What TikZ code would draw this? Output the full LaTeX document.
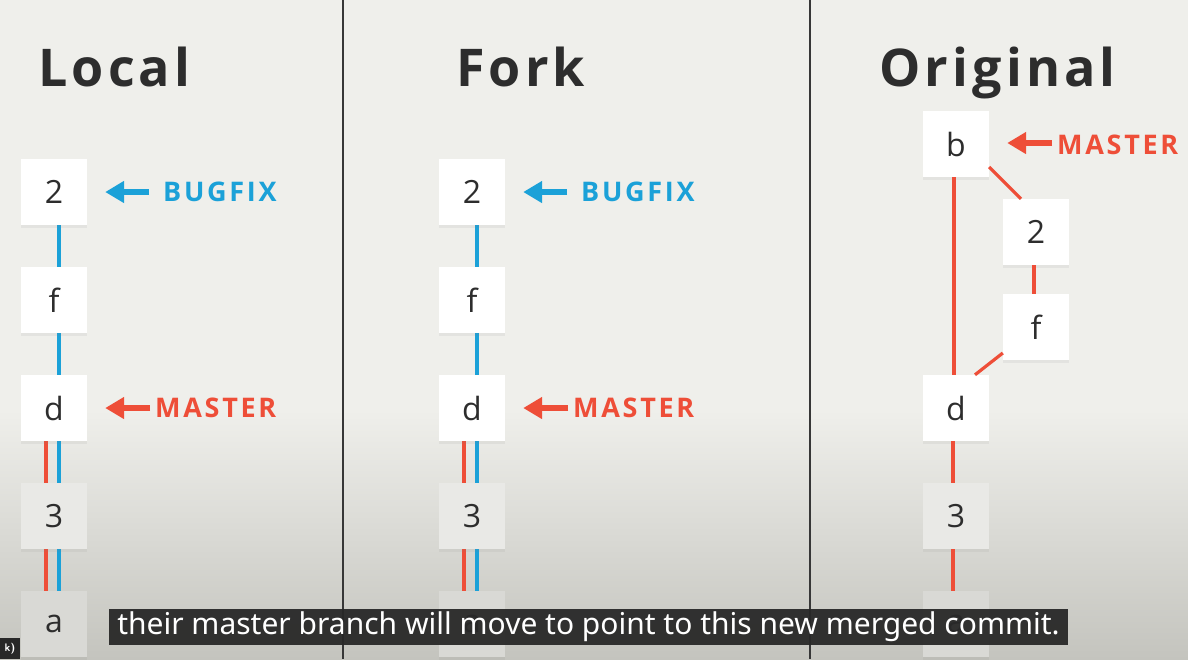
\documentclass[tikz,border=0pt]{standalone}
\usepackage{fontspec}
\setmainfont{Open Sans}
\newfontfamily\titlefont[LetterSpace=8]{Open Sans}
\newfontfamily\labelfont[LetterSpace=10]{Open Sans}
\newfontfamily\subfont{Noto Sans}
\usetikzlibrary{arrows.meta,shadows}
\definecolor{gblue}{RGB}{27,161,216}
\definecolor{gred}{RGB}{238,78,56}
\definecolor{bgtop}{RGB}{239,239,235}
\definecolor{bgbot}{RGB}{196,196,190}
\definecolor{divider}{RGB}{55,55,55}
\definecolor{ink}{RGB}{45,45,45}
\definecolor{capbg}{RGB}{40,40,40}
\tikzset{
  commit/.style={draw=none, fill=white, minimum width=66pt, minimum height=66pt, inner sep=0pt,
    text=ink, font=\fontsize{32}{36}\selectfont,
    drop shadow={opacity=0.10, shadow xshift=0pt, shadow yshift=-3pt}},
  dim1/.style={fill={rgb,255:red,233;green,233;blue,230}},
  dim2/.style={fill={rgb,255:red,217;green,217;blue,213}},
  title/.style={text=ink, font=\titlefont\bfseries\fontsize{52}{60}\selectfont, anchor=base west, inner sep=0pt},
  tag/.style={font=\labelfont\bfseries\fontsize{27}{30}\selectfont, anchor=west, inner sep=0pt},
  bline/.style={gblue, line width=3.2pt},
  rline/.style={gred, line width=3.2pt},
  ptr/.style={line width=5.5pt, -{Triangle[length=19pt,width=21pt]}},
}
\begin{document}
\begin{tikzpicture}[x=1pt,y=-1pt]
\useasboundingbox (0,0) rectangle (1188,659);
\fill[bgtop] (0,0) rectangle (1188,659);
\shade[top color=bgtop, bottom color=bgbot] (0,410) rectangle (1188,659);
\draw[divider, line width=1.5pt] (343,0) -- (343,659);
\draw[divider, line width=1.5pt] (810,0) -- (810,659);

% titles
\node[title] (tL) at (38,86) {Local};
\node[title] (tF) at (456,86) {Fork};
\node[title] (tO) at (879,86) {Original};

% ---------- Local ----------
\coordinate (l2) at (54,192);
\draw[bline] ([xshift=5pt]l2) -- ++(0,108) -- ++(0,108) -- ++(0,108) -- ++(0,108);
\draw[rline] (46,408) -- (46,624);
\node[commit] (L2) at (54,192) {2};
\node[commit] (Lf) at (54,300) {f};
\node[commit] (Ld) at (54,408) {d};
\node[commit, dim1] (L3) at (54,516) {3};
\node[commit, dim2] (La) at (54,624) {a};
\node[tag, text=gblue] (Lbug) at (163,192) {BUGFIX};
\node[tag, text=gred] (Lmas) at (155,408) {MASTER};
\draw[ptr, gblue] ([xshift=62pt]L2.east) -- ([xshift=18pt]L2.east);
\draw[ptr, gred] ([xshift=63pt]Ld.east) -- ([xshift=18pt]Ld.east);

% ---------- Fork ----------
\draw[bline] (477,192) -- (477,624);
\draw[rline] (464,408) -- (464,624);
\node[commit] (F2) at (472,192) {2};
\node[commit] (Ff) at (472,300) {f};
\node[commit] (Fd) at (472,408) {d};
\node[commit, dim1] (F3) at (472,516) {3};
\node[commit, dim2] (Fa) at (472,624) {a};
\node[tag, text=gblue] (Fbug) at (581,192) {BUGFIX};
\node[tag, text=gred] (Fmas) at (573,408) {MASTER};
\draw[ptr, gblue] ([xshift=62pt]F2.east) -- ([xshift=18pt]F2.east);
\draw[ptr, gred] ([xshift=63pt]Fd.east) -- ([xshift=18pt]Fd.east);

% ---------- Original ----------
\node[commit] (Ob) at (956,144) {b};
\node[commit] (O2) at (1036,232) {2};
\node[commit] (Of) at (1036,327) {f};
\node[commit] (Od) at (956,408) {d};
\node[commit, dim1] (O3) at (956,516) {3};
\node[commit, dim2] (Oa) at (956,624) {a};
\draw[rline] ([xshift=-2pt]Ob.south) -- ([xshift=-2pt]Od.north);
\draw[rline] ([yshift=-23pt]Ob.east) -- ([xshift=-15pt]O2.north);
\draw[rline] ([xshift=-2pt]O2.south) -- ([xshift=-2pt]Of.north);
\draw[rline] ([yshift=-26pt]Of.west) -- ([xshift=19pt]Od.north);
\draw[rline] ([xshift=-3pt]Od.south) -- ([xshift=-3pt]O3.north);
\draw[rline] ([xshift=-3pt]O3.south) -- ([xshift=-3pt]Oa.north);
\node[tag, text=gred] (Omas) at (1057,145) {MASTER};
\draw[ptr, gred] ([xshift=63pt,yshift=1pt]Ob.east) -- ([xshift=18pt,yshift=1pt]Ob.east);

% ---------- caption ----------
\node[fill=capbg, fill opacity=0.95, text opacity=1, text=white, inner xsep=8pt, inner ysep=0pt,
  minimum height=36pt, font=\subfont\fontsize{30}{32}\selectfont] (cap) at (588.5,627)
  {their master branch will move to point to this new merged commit.};
\node[fill=capbg, text=white, inner sep=0pt, minimum width=20pt, minimum height=21pt,
  font=\sffamily\bfseries\fontsize{11}{12}\selectfont] (kk) at (10,648.5) {k)};
\end{tikzpicture}
\end{document}
